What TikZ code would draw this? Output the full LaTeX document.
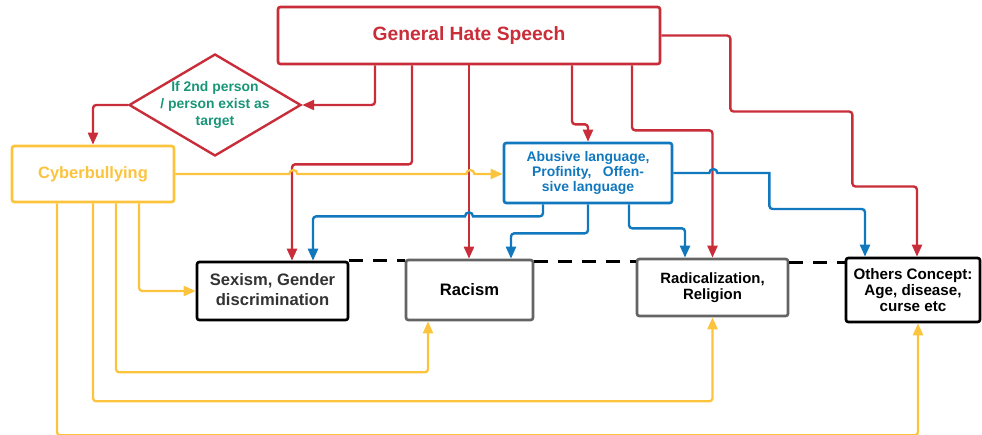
\documentclass[tikz,border=0pt]{standalone}
\usepackage{fontspec}
\setmainfont{Liberation Sans}
\usetikzlibrary{calc,shapes.geometric,arrows.meta}

\definecolor{hatered}{RGB}{201,45,57}
\definecolor{bullyyellow}{RGB}{252,195,60}
\definecolor{abuseblue}{RGB}{18,120,190}
\definecolor{condgreen}{RGB}{25,150,120}
\definecolor{boxgray}{RGB}{100,100,100}
\definecolor{textdark}{RGB}{51,51,51}
\def\fs#1#2{\fontsize{#1}{#2}\selectfont\bfseries}

\tikzset{
	box/.style={draw, rounded corners=0.6mm, line width=1.9pt, fill=white, align=center, inner sep=0pt},
	conn/.style={line width=1.7pt, rounded corners=0.8mm, -{Triangle[length=3mm,width=2.5mm]}},
	redconn/.style={conn, color=hatered},
	blueconn/.style={conn, color=abuseblue},
	yellowconn/.style={conn, color=bullyyellow, line width=1.6pt},
	dashline/.style={line width=2.1pt, dash pattern=on 3.5mm off 2.5mm}
}

\begin{document}
\begin{tikzpicture}[x=0.25mm, y=-0.25mm]
		%%%%% START %%%%%
		\useasboundingbox (0,0) rectangle (982,435);
		
		\node[box, draw=hatered, text=hatered, minimum width=95.5mm, minimum height=14.25mm, font=\fs{13.7}{16}] (ghs) at (469,35.5) {General Hate Speech};
		\node[diamond, draw=hatered, line width=1.7pt, fill=white, inner sep=0pt, minimum width=43mm, minimum height=25.5mm,
			label={[text=condgreen, align=center, font=\fs{9.9}{12.1}]center:{If 2nd person\\/ person exist as\\target}}] (cond) at (215,105) {};
		\node[box, draw=bullyyellow, text=bullyyellow, minimum width=40.5mm, minimum height=14mm, font=\fs{11.7}{14}] (cb) at (93,174) {Cyberbullying};
		\node[box, draw=abuseblue, text=abuseblue, minimum width=42mm, minimum height=15mm, font=\fs{9.9}{10.7}] (abu) at (588,173) {Abusive language,\\Profinity,\ \ \ Offen-\\sive language};
		
		\node[box, draw=black, text=textdark, minimum width=37.75mm, minimum height=14.5mm, font=\fs{11.8}{14.2}] (sex) at (272.5,291) {Sexism, Gender\\discrimination\vphantom{p}};
		\node[box, draw=boxgray, text=black, minimum width=31.75mm, minimum height=15mm, font=\fs{11.8}{14.2}] (rac) at (469.5,290) {Racism};
		\node[box, draw=boxgray, text=black, minimum width=37.75mm, minimum height=14.25mm, font=\fs{10.6}{11.1}] (rad) at (712.5,287.5) {Radicalization,\\Religion};
		\node[box, draw=black, text=black, minimum width=33.5mm, minimum height=16mm, font=\fs{10.8}{11.1}] (oth) at (913,290) {Others Concept:\\Age, disease,\\curse etc};
		
		% dashed link between the target boxes
		\draw[dashline] (sex.north east) -- (sex.north east -| rac.west)
			([yshift=-0.75mm]rac.north east) -- ([yshift=-0.75mm]rac.north east -| rad.west)
			([yshift=-1.25mm]rad.north east) -- ([yshift=-1.25mm]rad.north east -| oth.west);
		
		% from general hate speech
		\draw[redconn] ($(ghs.south)+(-94,0)$) |- (cond.east);
		\draw[redconn] (cond.west) -| (cb.north);
		\draw[redconn] ($(ghs.south)+(-57,0)$) -- ++(0,99) -| ($(sex.north)+(19.5,0)$);
		\draw[redconn] (ghs.south) -- (ghs.south |- rac.north);
		\draw[redconn] ($(ghs.south)+(103,0)$) -- ++(0,59) -| (abu.north);
		\draw[redconn] ($(ghs.south)+(163,0)$) -- ++(0,65) -| (rad.north);
		\draw[redconn] (ghs.east) -- ++(69,0) -- ++(0,76) -- ++(122,0) -- ++(0,75) -| ($(oth.north)+(4,0)$);
		
		% from abusive language
		\draw[blueconn, sharp corners] (abu.east) -- ++(36,0) arc[start angle=180, end angle=0, radius=1mm] -- ++(52,0) [rounded corners=0.8mm] -- ++(0,36) -| ($(oth.north)+(-48,0)$);
		\draw[blueconn] ($(abu.south)+(-45,0)$) -- ++(0,12) [sharp corners] -- ++(-70,0) arc[start angle=0, end angle=180, radius=1mm] [rounded corners=0.8mm] -| ($(sex.north)+(40.5,0)$);
		\draw[blueconn] (abu.south) -- ++(0,29) -| ($(rac.north)+(41.5,0)$);
		\draw[blueconn] ($(abu.south)+(41,0)$) -- ++(0,24) -| ($(rad.north)+(-27.5,0)$);
		
		% from cyberbullying
		\draw[yellowconn, sharp corners] (cb.east) -- ++(114,0) arc[start angle=180, end angle=0, radius=1mm] -- ++(169,0) arc[start angle=180, end angle=0, radius=1mm] -- (abu.west |- cb.east);
		\draw[yellowconn] ($(cb.south)+(46,0)$) |- (sex.west);
		\draw[yellowconn] ($(cb.south)+(23,0)$) -- ++(0,169) -| ($(rac.south)+(-41.5,0)$);
		\draw[yellowconn] (cb.south) -- ++(0,198) -| (rad.south);
		\draw[yellowconn] ($(cb.south)+(-36,0)$) -- ++(0,232) -| ($(oth.south)+(5,0)$);
		
		%%%%% END %%%%%
	\end{tikzpicture}
\end{document}
